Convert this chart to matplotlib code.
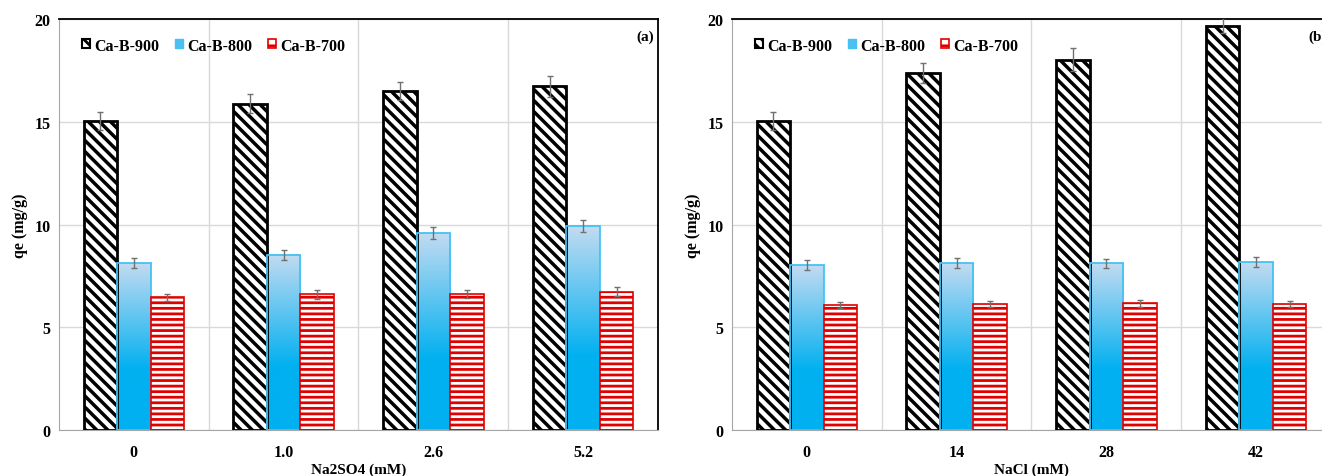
import numpy as np
import matplotlib
matplotlib.use("Agg")
import matplotlib.pyplot as plt
from matplotlib.patches import Patch
from matplotlib.colors import to_rgb

plt.rcParams["font.family"] = "Liberation Serif"
plt.rcParams["font.weight"] = "bold"
plt.rcParams["hatch.linewidth"] = 2.0

series = ["Ca-B-900", "Ca-B-800", "Ca-B-700"]

# panel (a): Na2SO4
cats_a = ["0", "1.0", "2.6", "5.2"]
b900_a = [15.05, 15.88, 16.5, 16.73]
b800_a = [8.12, 8.53, 9.58, 9.92]
b700_a = [6.46, 6.6, 6.62, 6.74]
e900_a = [0.45, 0.45, 0.45, 0.5]
e800_a = [0.25, 0.25, 0.3, 0.3]
e700_a = [0.18, 0.2, 0.2, 0.2]

# panel (b): NaCl
cats_b = ["0", "14", "28", "42"]
b900_b = [15.05, 17.38, 18.02, 19.68]
b800_b = [8.02, 8.12, 8.12, 8.17]
b700_b = [6.07, 6.12, 6.16, 6.12]
e900_b = [0.45, 0.5, 0.55, 0.35]
e800_b = [0.25, 0.25, 0.22, 0.25]
e700_b = [0.15, 0.15, 0.15, 0.15]

BLUE = to_rgb("#00B0F0")
LIGHT = to_rgb("#C2DBF2")
HATCH_900 = "\\\\\\"
HATCH_700 = "---"


def hatch_lw(patches, lw):
    for p in patches:
        if hasattr(p, "set_hatch_linewidth"):
            p.set_hatch_linewidth(lw)


def gradient_bar(ax, x, h, w):
    n = 200
    t = np.linspace(0, 1, n)
    f = np.clip((t - 0.36) / 0.64, 0, 1)
    img = np.array([[np.array(BLUE) * (1 - fi) + np.array(LIGHT) * fi] for fi in f])
    ax.imshow(img, extent=[x - w / 2, x + w / 2, 0, h], origin="lower",
              aspect="auto", zorder=2, interpolation="bilinear")
    ax.bar(x, h, w, facecolor="none", edgecolor="#45C1F2", linewidth=1.3, zorder=3)


def panel(ax, cats, v900, v800, v700, e900, e800, e700, xlabel, tag):
    x = np.arange(len(cats))
    w = 0.224
    b1 = ax.bar(x - w, v900, w, facecolor="white", edgecolor="black", hatch=HATCH_900,
                linewidth=2, zorder=3)
    hatch_lw(b1, 2.5)
    for xi, h in zip(x, v800):
        gradient_bar(ax, xi, h, w)
    b3 = ax.bar(x + w, v700, w, facecolor="white", edgecolor="#E00000", hatch=HATCH_700,
                linewidth=1.2, zorder=3)
    hatch_lw(b3, 2.0)
    ekw = dict(fmt="none", ecolor="#707070", elinewidth=1, capsize=2.5, zorder=5)
    ax.errorbar(x - w, v900, yerr=e900, **ekw)
    ax.errorbar(x, v800, yerr=e800, **ekw)
    ax.errorbar(x + w, v700, yerr=e700, **ekw)

    ax.set_xlim(-0.5, len(cats) - 0.5)
    ax.set_ylim(0, 20)
    ax.set_yticks([0, 5, 10, 15, 20])
    ax.set_xticks(x)
    ax.set_xticklabels(cats)
    ax.set_xticks(x[:-1] + 0.5, minor=True)
    ax.grid(axis="y", which="major", color="#D9D9D9", linewidth=1, zorder=0)
    ax.grid(axis="x", which="minor", color="#D9D9D9", linewidth=1, zorder=0)
    ax.set_axisbelow(True)
    ax.tick_params(which="both", length=0, labelsize=11.5)
    ax.tick_params(axis="x", pad=10)
    ax.tick_params(axis="y", pad=6)
    for lab in ax.get_xticklabels() + ax.get_yticklabels():
        lab.set_fontweight("bold")
    ax.spines["left"].set_color("#A6A6A6")
    ax.spines["bottom"].set_color("#A6A6A6")
    ax.spines["top"].set_color("black")
    ax.spines["right"].set_color("black")
    ax.spines["top"].set_linewidth(1.3)
    ax.spines["right"].set_linewidth(1.3)
    ax.set_ylabel("qe (mg/g)", fontsize=11.5, fontweight="bold", labelpad=5)
    ax.set_xlabel(xlabel, fontsize=11, fontweight="bold", labelpad=2)

    handles = [
        Patch(facecolor="white", edgecolor="black", hatch="\\\\\\", linewidth=1.5),
        Patch(facecolor="#4CC0F0", edgecolor="#45C1F2"),
        Patch(facecolor="white", edgecolor="#E00000", hatch="--", linewidth=1.2),
    ]
    ax.legend(handles, series, ncol=3, loc="upper left", bbox_to_anchor=(0.015, 0.99),
              frameon=False, handlelength=0.5, handleheight=0.5, handletextpad=0.25,
              columnspacing=1.0, prop={"weight": "bold", "size": 11.5})
    ax.text(0.993, 0.975, tag, transform=ax.transAxes, ha="right", va="top",
            fontsize=11, fontweight="bold")


fig = plt.figure(figsize=(13.22, 4.77), dpi=100)
ax1 = fig.add_axes([0.0446, 0.0964, 0.4531, 0.8616])
ax2 = fig.add_axes([0.5537, 0.0964, 0.4531, 0.8616])

panel(ax1, cats_a, b900_a, b800_a, b700_a, e900_a, e800_a, e700_a, "Na2SO4 (mM)", "(a)")
panel(ax2, cats_b, b900_b, b800_b, b700_b, e900_b, e800_b, e700_b, "NaCl (mM)", "(b)")

fig.savefig("out.png", dpi=100)
